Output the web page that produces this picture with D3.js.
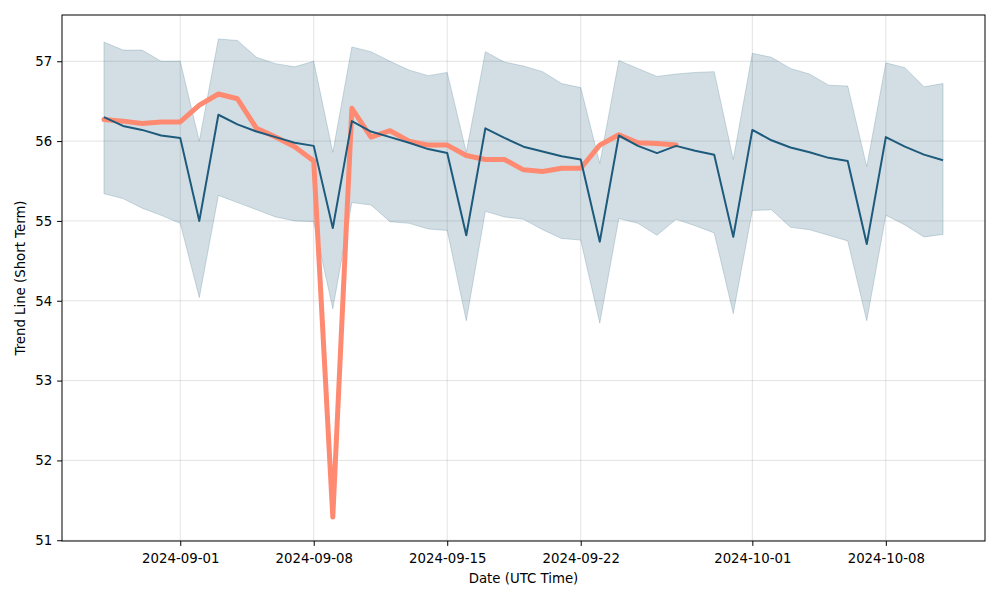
<!DOCTYPE html>
<html><head><meta charset="utf-8">
<script src="https://cdn.jsdelivr.net/npm/d3@7"></script>
<style>body{margin:0;background:#fff}svg{display:block}text{font-family:"DejaVu Sans",sans-serif}</style>
</head><body><svg id="c" width="1000" height="600"></svg>
<script>
const startDate = "2024-08-28";
const trend = [56.30,56.19,56.14,56.07,56.04,55.00,56.33,56.21,56.12,56.05,55.98,55.94,54.91,56.25,56.12,56.05,55.98,55.90,55.85,54.82,56.16,56.04,55.93,55.87,55.81,55.77,54.74,56.07,55.94,55.85,55.94,55.88,55.83,54.80,56.14,56.01,55.92,55.86,55.79,55.75,54.71,56.05,55.93,55.83,55.76];
const upper = [57.24,57.14,57.14,57.00,57.00,56.00,57.28,57.26,57.05,56.97,56.93,57.00,55.86,57.18,57.12,57.00,56.89,56.82,56.86,55.86,57.12,56.99,56.94,56.87,56.72,56.67,55.72,57.01,56.91,56.81,56.84,56.86,56.87,55.77,57.10,57.05,56.91,56.84,56.70,56.69,55.68,56.98,56.92,56.68,56.72];
const lower = [55.34,55.28,55.16,55.07,54.97,54.04,55.32,55.23,55.14,55.05,55.00,54.99,53.90,55.23,55.20,54.99,54.97,54.90,54.88,53.75,55.12,55.05,55.02,54.89,54.78,54.76,53.72,55.03,54.97,54.82,55.02,54.94,54.85,53.84,55.13,55.14,54.92,54.89,54.82,54.75,53.75,55.07,54.95,54.80,54.83];
const actual = [56.27,56.25,56.22,56.24,56.24,56.45,56.59,56.53,56.16,56.05,55.93,55.75,51.29,56.41,56.05,56.13,56.00,55.95,55.95,55.82,55.77,55.77,55.64,55.62,55.66,55.66,55.95,56.08,55.98,55.97,55.95];
const xTickLabels = ["2024-09-01","2024-09-08","2024-09-15","2024-09-22","2024-10-01","2024-10-08"];
const yTicks = [51,52,53,54,55,56,57];

const parse = d3.utcParse("%Y-%m-%d");
const t0 = parse(startDate);
const dates = trend.map((_, i) => d3.utcDay.offset(t0, i));
const svg = d3.select("#c");
const m = {l:62, r:985, t:15, b:541};
const DAY = 864e5;
const span = dates[dates.length-1] - dates[0];
const x = d3.scaleUtc().domain([new Date(+dates[0] - span*0.05), new Date(+dates[dates.length-1] + span*0.05)]).range([m.l, m.r]);
const allV = upper.concat(lower, actual);
const ymin = d3.min(allV), ymax = d3.max(allV), yr = ymax - ymin;
const y = d3.scaleLinear().domain([ymin - yr*0.05, ymax + yr*0.05]).range([m.b, m.t]);

const xTicks = xTickLabels.map(parse);
const g = svg.append("g");
// grid
g.selectAll(".gx").data(xTicks).join("line").attr("x1", d=>x(d)).attr("x2", d=>x(d)).attr("y1", m.t).attr("y2", m.b).attr("stroke","#b0b0b0").attr("stroke-opacity",0.35).attr("stroke-width",1);
g.selectAll(".gy").data(yTicks).join("line").attr("y1", d=>y(d)).attr("y2", d=>y(d)).attr("x1", m.l).attr("x2", m.r).attr("stroke","#b0b0b0").attr("stroke-opacity",0.35).attr("stroke-width",1);

const area = d3.area().x((d,i)=>x(dates[i])).y0((d,i)=>y(lower[i])).y1((d,i)=>y(upper[i]));
g.append("path").datum(trend).attr("d", area).attr("fill","#1f5a7a").attr("fill-opacity",0.2).attr("stroke","#1f5a7a").attr("stroke-opacity",0.2).attr("stroke-width",1);

const line = d3.line().x((d,i)=>x(dates[i])).y(d=>y(d));
g.append("path").datum(actual).attr("d", line).attr("fill","none").attr("stroke","#ff8a72").attr("stroke-width",5).attr("stroke-linejoin","round").attr("stroke-linecap","round");
g.append("path").datum(trend).attr("d", line).attr("fill","none").attr("stroke","#1d5a7b").attr("stroke-width",2).attr("stroke-linejoin","round");

// frame
svg.append("rect").attr("x", m.l).attr("y", m.t).attr("width", m.r-m.l).attr("height", m.b-m.t).attr("fill","none").attr("stroke","#000").attr("stroke-width",1);

const xa = svg.append("g").attr("transform", `translate(0,${m.b})`).call(d3.axisBottom(x).tickValues(xTicks).tickFormat(d3.utcFormat("%Y-%m-%d")).tickSize(4.9).tickSizeOuter(0));
xa.select(".domain").remove();
xa.selectAll("text").attr("font-size","13.3px").attr("fill","#000").attr("dy","1.05em");
xa.selectAll("line").attr("stroke","#000");
const ya = svg.append("g").attr("transform", `translate(${m.l},0)`).call(d3.axisLeft(y).tickValues(yTicks).tickFormat(d3.format("d")).tickSize(4.9).tickSizeOuter(0));
ya.select(".domain").remove();
ya.selectAll("text").attr("font-size","13.3px").attr("fill","#000").attr("dx","-0.15em");
ya.selectAll("line").attr("stroke","#000");

svg.append("text").attr("x", (m.l+m.r)/2).attr("y", 583).attr("text-anchor","middle").attr("font-size","13.3px").text("Date (UTC Time)");
svg.append("text").attr("transform", `translate(25,${(m.t+m.b)/2}) rotate(-90)`).attr("text-anchor","middle").attr("font-size","13.3px").text("Trend Line (Short Term)");
</script></body></html>
